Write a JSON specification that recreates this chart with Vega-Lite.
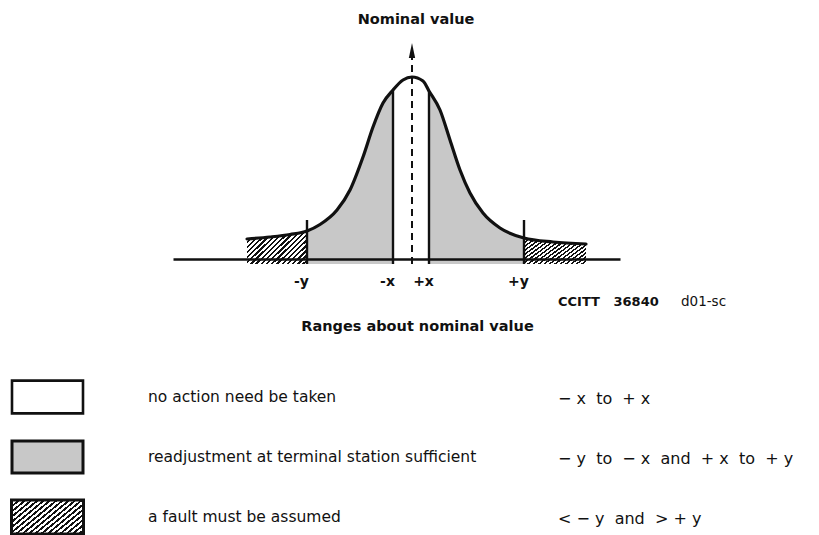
{
  "$schema": "https://vega.github.io/schema/vega-lite/v6.json",
  "width": 819,
  "height": 535,
  "autosize": {"type": "fit", "contains": "padding"},
  "padding": 0,
  "background": "white",
  "config": {"view": {"stroke": null}, "font": "DejaVu Sans"},
  "datasets": {
    "curve": [
      {"dev": -16.5, "h": 25}, {"dev": -14.2, "h": 27}, {"dev": -12.2, "h": 29.5}, {"dev": -10.5, "h": 33},
      {"dev": -9.2, "h": 39.5}, {"dev": -7.5, "h": 54}, {"dev": -6.2, "h": 74}, {"dev": -4.9, "h": 107},
      {"dev": -3.9, "h": 137}, {"dev": -2.9, "h": 161}, {"dev": -1.9, "h": 174}, {"dev": -0.9, "h": 184},
      {"dev": 0, "h": 187}, {"dev": 1.1, "h": 183}, {"dev": 1.7, "h": 173}, {"dev": 2.8, "h": 154},
      {"dev": 3.8, "h": 124}, {"dev": 4.8, "h": 94}, {"dev": 5.8, "h": 71}, {"dev": 7.1, "h": 51},
      {"dev": 8.8, "h": 36}, {"dev": 11.2, "h": 26}, {"dev": 14.1, "h": 22}, {"dev": 17.4, "h": 20}
    ],
    "hatch": [
      {"seg": "L", "dev": -16.5, "h": 25}, {"seg": "L", "dev": -14.2, "h": 27}, {"seg": "L", "dev": -12.2, "h": 29.5}, {"seg": "L", "dev": -10.5, "h": 33},
      {"seg": "R", "dev": 11.2, "h": 26}, {"seg": "R", "dev": 14.1, "h": 22}, {"seg": "R", "dev": 17.4, "h": 20}
    ],
    "stipple": [
      {"seg": "L", "dev": -10.5, "h": 33}, {"seg": "L", "dev": -9.2, "h": 39.5}, {"seg": "L", "dev": -7.5, "h": 54}, {"seg": "L", "dev": -6.2, "h": 74},
      {"seg": "L", "dev": -4.9, "h": 107}, {"seg": "L", "dev": -3.9, "h": 137}, {"seg": "L", "dev": -2.9, "h": 161}, {"seg": "L", "dev": -1.9, "h": 174},
      {"seg": "R", "dev": 1.7, "h": 173}, {"seg": "R", "dev": 2.8, "h": 154}, {"seg": "R", "dev": 3.8, "h": 124}, {"seg": "R", "dev": 4.8, "h": 94},
      {"seg": "R", "dev": 5.8, "h": 71}, {"seg": "R", "dev": 7.1, "h": 51}, {"seg": "R", "dev": 8.8, "h": 36}, {"seg": "R", "dev": 11.2, "h": 26}
    ],
    "markers": [
      {"dev": -10.5, "h": 0, "top": 44},
      {"dev": -1.9, "h": 0, "top": 174},
      {"dev": 1.7, "h": 0, "top": 173},
      {"dev": 11.2, "h": 0, "top": 44}
    ],
    "legend": [
      {"row": "none", "desc": "no action need be taken", "range": "−\u00a0x\u00a0\u00a0to\u00a0\u00a0+\u00a0x"},
      {"row": "readjust", "desc": "readjustment at terminal station sufficient", "range": "−\u00a0y\u00a0\u00a0to\u00a0\u00a0−\u00a0x\u00a0\u00a0and\u00a0\u00a0+\u00a0x\u00a0\u00a0to\u00a0\u00a0+\u00a0y"},
      {"row": "fault", "desc": "a fault must be assumed", "range": "<\u00a0−\u00a0y\u00a0\u00a0and\u00a0\u00a0>\u00a0+\u00a0y"}
    ]
  },
  "layer": [
    {
      "encoding": {
        "x": {
          "field": "dev", "type": "quantitative",
          "scale": {"domain": [-23.9, 20.8], "range": [173, 620], "nice": false, "zero": false},
          "axis": {
            "values": [-10.5, -1.9, 1.7, 11.2],
            "labelExpr": "datum.value < -5 ? '-y' : datum.value < 0 ? '-x' : datum.value < 5 ? '+x' : '+y'",
            "orient": "bottom", "offset": -271, "ticks": false, "grid": false,
            "domainColor": "#111", "domainWidth": 2.5, "zindex": 1,
            "labelFont": "DejaVu Sans", "labelFontWeight": "bold", "labelFontSize": 14, "labelColor": "#111",
            "labelPadding": 15, "labelOffset": -6, "labelOverlap": false, "labelFlush": false,
            "title": "Ranges about nominal value", "titleFont": "DejaVu Sans", "titleFontWeight": "bold", "titleFontSize": 14.5,
            "titleColor": "#111", "titleX": 417, "titleY": 67, "titleAlign": "center", "titleBaseline": "middle", "titleAngle": 0
          }
        },
        "y": {
          "field": "h", "type": "quantitative",
          "scale": {"domain": [0, 264], "range": [264, 0], "nice": false, "zero": false},
          "axis": null
        }
      },
      "layer": [
        {
          "data": {"name": "stipple"},
          "mark": {"type": "area", "interpolate": "monotone", "fill": "#c8c8c8", "stroke": null},
          "encoding": {"y2": {"datum": 0}, "detail": {"field": "seg"}}
        },
        {
          "data": {"name": "hatch"},
          "mark": {"type": "area", "interpolate": "monotone", "stroke": null,
            "fill": {"gradient": "linear", "x1": 0, "y1": 0, "x2": 1.2, "y2": 0.68, "stops": [
              {"offset": 0, "color": "#111"}, {"offset": 0.025, "color": "#111"}, {"offset": 0.025, "color": "#fff"}, {"offset": 0.055, "color": "#fff"},
              {"offset": 0.055, "color": "#111"}, {"offset": 0.08, "color": "#111"}, {"offset": 0.08, "color": "#fff"}, {"offset": 0.11, "color": "#fff"},
              {"offset": 0.11, "color": "#111"}, {"offset": 0.135, "color": "#111"}, {"offset": 0.135, "color": "#fff"}, {"offset": 0.165, "color": "#fff"},
              {"offset": 0.165, "color": "#111"}, {"offset": 0.19, "color": "#111"}, {"offset": 0.19, "color": "#fff"}, {"offset": 0.22, "color": "#fff"},
              {"offset": 0.22, "color": "#111"}, {"offset": 0.245, "color": "#111"}, {"offset": 0.245, "color": "#fff"}, {"offset": 0.275, "color": "#fff"},
              {"offset": 0.275, "color": "#111"}, {"offset": 0.3, "color": "#111"}, {"offset": 0.3, "color": "#fff"}, {"offset": 0.33, "color": "#fff"},
              {"offset": 0.33, "color": "#111"}, {"offset": 0.355, "color": "#111"}, {"offset": 0.355, "color": "#fff"}, {"offset": 0.385, "color": "#fff"},
              {"offset": 0.385, "color": "#111"}, {"offset": 0.41, "color": "#111"}, {"offset": 0.41, "color": "#fff"}, {"offset": 0.44, "color": "#fff"},
              {"offset": 0.44, "color": "#111"}, {"offset": 0.465, "color": "#111"}, {"offset": 0.465, "color": "#fff"}, {"offset": 0.495, "color": "#fff"},
              {"offset": 0.495, "color": "#111"}, {"offset": 0.52, "color": "#111"}, {"offset": 0.52, "color": "#fff"}, {"offset": 0.55, "color": "#fff"},
              {"offset": 0.55, "color": "#111"}, {"offset": 0.575, "color": "#111"}, {"offset": 0.575, "color": "#fff"}, {"offset": 0.605, "color": "#fff"},
              {"offset": 0.605, "color": "#111"}, {"offset": 0.63, "color": "#111"}, {"offset": 0.63, "color": "#fff"}, {"offset": 0.66, "color": "#fff"},
              {"offset": 0.66, "color": "#111"}, {"offset": 0.685, "color": "#111"}, {"offset": 0.685, "color": "#fff"}, {"offset": 0.715, "color": "#fff"},
              {"offset": 0.715, "color": "#111"}, {"offset": 0.74, "color": "#111"}, {"offset": 0.74, "color": "#fff"}, {"offset": 0.77, "color": "#fff"},
              {"offset": 0.77, "color": "#111"}, {"offset": 0.795, "color": "#111"}, {"offset": 0.795, "color": "#fff"}, {"offset": 0.825, "color": "#fff"},
              {"offset": 0.825, "color": "#111"}, {"offset": 0.85, "color": "#111"}, {"offset": 0.85, "color": "#fff"}, {"offset": 0.88, "color": "#fff"},
              {"offset": 0.88, "color": "#111"}, {"offset": 0.905, "color": "#111"}, {"offset": 0.905, "color": "#fff"}, {"offset": 0.935, "color": "#fff"},
              {"offset": 0.935, "color": "#111"}, {"offset": 0.96, "color": "#111"}, {"offset": 0.96, "color": "#fff"}, {"offset": 1, "color": "#fff"}
            ]}},
          "encoding": {"y2": {"datum": 0}, "detail": {"field": "seg"}}
        },
        {
          "data": {"name": "curve"},
          "mark": {"type": "line", "interpolate": "monotone", "color": "#111", "strokeWidth": 3.2, "strokeCap": "round"}
        },
        {
          "data": {"name": "markers"},
          "mark": {"type": "rule", "color": "#111", "strokeWidth": 2.4},
          "encoding": {"y2": {"field": "top"}}
        },
        {
          "data": {"values": [{"dev": 0, "h": 0, "top": 206}]},
          "mark": {"type": "rule", "color": "#111", "strokeWidth": 2, "strokeDash": [7, 5]},
          "encoding": {"y2": {"field": "top"}}
        },
        {
          "data": {"values": [{"dev": 0, "h": 213.5}]},
          "mark": {"type": "point", "shape": "M0,-1L0.42,1L-0.42,1Z", "size": 225, "filled": true, "color": "#111", "opacity": 1}
        },
        {
          "data": {"values": [{"dev": 0.4, "h": 244, "label": "Nominal value"}]},
          "mark": {"type": "text", "font": "DejaVu Sans", "fontWeight": "bold", "fontSize": 14.5, "color": "#111", "align": "center", "baseline": "middle"},
          "encoding": {"text": {"field": "label"}}
        },
        {
          "data": {"values": [{"dev": 14.6, "h": -38, "label": "CCITT\u00a0\u00a0\u00a036840"}]},
          "mark": {"type": "text", "font": "DejaVu Sans", "fontWeight": "bold", "fontSize": 13, "color": "#111", "align": "left", "baseline": "middle"},
          "encoding": {"text": {"field": "label"}}
        },
        {
          "data": {"values": [{"dev": 26.9, "h": -38, "label": "d01-sc"}]},
          "mark": {"type": "text", "font": "DejaVu Sans", "fontSize": 13.5, "color": "#111", "align": "left", "baseline": "middle"},
          "encoding": {"text": {"field": "label"}}
        }
      ]
    },
    {
      "data": {"name": "legend"},
      "encoding": {
        "y": {"field": "row", "type": "nominal", "scale": {"type": "point", "domain": ["none", "readjust", "fault"], "range": [397, 517], "padding": 0}, "axis": null}
      },
      "layer": [
        {
          "transform": [{"filter": "datum.row === 'none'"}],
          "mark": {"type": "point", "shape": "M-1,-0.46L1,-0.46L1,0.46L-1,0.46Z", "size": 5041, "filled": true, "fill": "#fff", "stroke": "#111", "strokeWidth": 2.6, "opacity": 1},
          "encoding": {"x": {"datum": 0, "type": "quantitative", "scale": {"domain": [0, 1, 2], "range": [47.5, 148, 558]}, "axis": null}}
        },
        {
          "transform": [{"filter": "datum.row === 'readjust'"}],
          "mark": {"type": "point", "shape": "M-1,-0.45L1,-0.45L1,0.45L-1,0.45Z", "size": 5041, "filled": true, "fill": "#c8c8c8", "stroke": "#111", "strokeWidth": 3, "opacity": 1},
          "encoding": {"x": {"datum": 0, "type": "quantitative"}}
        },
        {
          "transform": [{"filter": "datum.row === 'fault'"}],
          "mark": {"type": "point", "shape": "M-1,-0.47L1,-0.47L1,0.47L-1,0.47Z", "size": 5184, "filled": true, "stroke": "#111", "strokeWidth": 3, "opacity": 1,
            "fill": {"gradient": "linear", "x1": 0, "y1": 0, "x2": 1.2, "y2": 0.68, "stops": [
              {"offset": 0, "color": "#111"}, {"offset": 0.025, "color": "#111"}, {"offset": 0.025, "color": "#fff"}, {"offset": 0.055, "color": "#fff"},
              {"offset": 0.055, "color": "#111"}, {"offset": 0.08, "color": "#111"}, {"offset": 0.08, "color": "#fff"}, {"offset": 0.11, "color": "#fff"},
              {"offset": 0.11, "color": "#111"}, {"offset": 0.135, "color": "#111"}, {"offset": 0.135, "color": "#fff"}, {"offset": 0.165, "color": "#fff"},
              {"offset": 0.165, "color": "#111"}, {"offset": 0.19, "color": "#111"}, {"offset": 0.19, "color": "#fff"}, {"offset": 0.22, "color": "#fff"},
              {"offset": 0.22, "color": "#111"}, {"offset": 0.245, "color": "#111"}, {"offset": 0.245, "color": "#fff"}, {"offset": 0.275, "color": "#fff"},
              {"offset": 0.275, "color": "#111"}, {"offset": 0.3, "color": "#111"}, {"offset": 0.3, "color": "#fff"}, {"offset": 0.33, "color": "#fff"},
              {"offset": 0.33, "color": "#111"}, {"offset": 0.355, "color": "#111"}, {"offset": 0.355, "color": "#fff"}, {"offset": 0.385, "color": "#fff"},
              {"offset": 0.385, "color": "#111"}, {"offset": 0.41, "color": "#111"}, {"offset": 0.41, "color": "#fff"}, {"offset": 0.44, "color": "#fff"},
              {"offset": 0.44, "color": "#111"}, {"offset": 0.465, "color": "#111"}, {"offset": 0.465, "color": "#fff"}, {"offset": 0.495, "color": "#fff"},
              {"offset": 0.495, "color": "#111"}, {"offset": 0.52, "color": "#111"}, {"offset": 0.52, "color": "#fff"}, {"offset": 0.55, "color": "#fff"},
              {"offset": 0.55, "color": "#111"}, {"offset": 0.575, "color": "#111"}, {"offset": 0.575, "color": "#fff"}, {"offset": 0.605, "color": "#fff"},
              {"offset": 0.605, "color": "#111"}, {"offset": 0.63, "color": "#111"}, {"offset": 0.63, "color": "#fff"}, {"offset": 0.66, "color": "#fff"},
              {"offset": 0.66, "color": "#111"}, {"offset": 0.685, "color": "#111"}, {"offset": 0.685, "color": "#fff"}, {"offset": 0.715, "color": "#fff"},
              {"offset": 0.715, "color": "#111"}, {"offset": 0.74, "color": "#111"}, {"offset": 0.74, "color": "#fff"}, {"offset": 0.77, "color": "#fff"},
              {"offset": 0.77, "color": "#111"}, {"offset": 0.795, "color": "#111"}, {"offset": 0.795, "color": "#fff"}, {"offset": 0.825, "color": "#fff"},
              {"offset": 0.825, "color": "#111"}, {"offset": 0.85, "color": "#111"}, {"offset": 0.85, "color": "#fff"}, {"offset": 0.88, "color": "#fff"},
              {"offset": 0.88, "color": "#111"}, {"offset": 0.905, "color": "#111"}, {"offset": 0.905, "color": "#fff"}, {"offset": 0.935, "color": "#fff"},
              {"offset": 0.935, "color": "#111"}, {"offset": 0.96, "color": "#111"}, {"offset": 0.96, "color": "#fff"}, {"offset": 1, "color": "#fff"}
            ]}},
          "encoding": {"x": {"datum": 0, "type": "quantitative"}}
        },
        {
          "mark": {"type": "text", "font": "DejaVu Sans", "fontSize": 15.5, "color": "#111", "align": "left", "baseline": "middle"},
          "encoding": {"x": {"datum": 1, "type": "quantitative"}, "text": {"field": "desc"}}
        },
        {
          "mark": {"type": "text", "font": "DejaVu Sans", "fontSize": 16, "color": "#111", "align": "left", "baseline": "middle", "dy": 2},
          "encoding": {"x": {"datum": 2, "type": "quantitative"}, "text": {"field": "range"}}
        }
      ]
    }
  ],
  "resolve": {"scale": {"x": "independent", "y": "independent"}, "axis": {"x": "independent", "y": "independent"}}
}
